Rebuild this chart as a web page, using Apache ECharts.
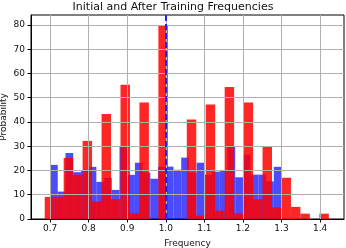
<!DOCTYPE html>
<html>
<head>
<meta charset="utf-8">
<script src="https://cdn.jsdelivr.net/npm/echarts@6/dist/echarts.min.js"></script>
<style>
html,body{margin:0;padding:0;background:#fff;}
#chart{width:346px;height:248px;}
</style>
</head>
<body>
<div id="chart"></div>
<script>
// Histogram "after training" (red): 30 bins
const redStart = 0.6862;
const redWidth = 0.02455;
const redValues = [9.1, 9.2, 25.2, 18.3, 32.2, 7.2, 43.3, 8.2, 55.3, 2.3,
                   48.0, 0, 80.0, 0, 0, 41.0, 1.4, 47.2, 3.4, 54.4,
                   2.3, 48.0, 8.2, 30.0, 4.8, 17.0, 5.0, 2.2, 0, 2.2];
// Histogram "initial" (blue): 30 bins
const blueStart = 0.70;
const blueWidth = 0.02;
const blueValues = [22.3, 11.3, 27.2, 19.3, 20.2, 21.5, 15.3, 17.0, 12.0, 30.0,
                    18.2, 23.2, 19.2, 16.6, 21.6, 21.6, 20.3, 25.3, 19.2, 23.2,
                    18.3, 19.5, 20.2, 30.0, 17.2, 26.5, 18.3, 18.3, 15.5, 21.5];
const xTicks = [0.7, 0.8, 0.9, 1.0, 1.1, 1.2, 1.3, 1.4];
const yTicks = [0, 10, 20, 30, 40, 50, 60, 70, 80];
const referenceX = 1.0;

function binData(start, width, values) {
  return values.map((v, i) => [start + i * width, start + (i + 1) * width, v]);
}

function makeRender(color) {
  return function (params, api) {
    const x0 = api.value(0), x1 = api.value(1), v = api.value(2);
    const pTop = api.coord([x0, v]);
    const pBot = api.coord([x1, 0]);
    return {
      type: 'rect',
      shape: { x: pTop[0], y: pTop[1], width: pBot[0] - pTop[0], height: pBot[1] - pTop[1] },
      style: { fill: color }
    };
  };
}

const font = 'DejaVu Sans';
const chart = echarts.init(document.getElementById('chart'), null, { renderer: 'canvas' });
chart.setOption({
  animation: false,
  backgroundColor: '#fff',
  title: {
    text: 'Initial and After Training Frequencies',
    left: 'center',
    top: 0,
    padding: [2, 0, 0, 29],
    textStyle: { fontFamily: font, fontSize: 11, fontWeight: 'normal', color: '#111' }
  },
  grid: { left: 31, right: 2, top: 15, bottom: 29, show: true, borderColor: '#000', borderWidth: 1, backgroundColor: 'transparent', outerBoundsMode: 'none' },
  xAxis: {
    type: 'value', min: 0.6506, max: 1.462, z: 5,
    name: 'Frequency', nameLocation: 'middle', nameGap: 20, nameMoveOverlap: false,
    nameTextStyle: { fontFamily: font, fontSize: 9, color: '#111' },
    axisLine: { show: true, lineStyle: { color: '#000', width: 1 } },
    axisTick: { show: true, length: 3.5, lineStyle: { color: '#000' }, customValues: xTicks },
    axisLabel: { customValues: xTicks, margin: 5, fontFamily: font, fontSize: 9, color: '#111', formatter: v => v.toFixed(1) },
    splitLine: { show: true, lineStyle: { color: '#b0b0b0', width: 1 } }
  },
  yAxis: {
    type: 'value', min: 0, max: 84.1, z: 5,
    name: 'Probability', nameLocation: 'middle', nameGap: 23, nameRotate: 90, nameMoveOverlap: false,
    nameTextStyle: { fontFamily: font, fontSize: 9, color: '#111' },
    axisLine: { show: true, lineStyle: { color: '#000', width: 1 } },
    axisTick: { show: true, length: 3.5, lineStyle: { color: '#000' }, customValues: yTicks },
    axisLabel: { customValues: yTicks, margin: 6, fontFamily: font, fontSize: 9, color: '#111' },
    splitLine: { show: true, lineStyle: { color: '#b0b0b0', width: 1 } }
  },
  series: [
    {
      type: 'custom', name: 'Initial', z: 2,
      renderItem: makeRender('rgba(0,0,255,0.7)'),
      encode: { x: [0, 1], y: 2 },
      data: binData(blueStart, blueWidth, blueValues)
    },
    {
      type: 'custom', name: 'After Training', z: 3,
      renderItem: makeRender('rgba(255,0,0,0.85)'),
      encode: { x: [0, 1], y: 2 },
      data: binData(redStart, redWidth, redValues),
      markLine: {
        silent: true, symbol: 'none', z: 10,
        label: { show: false },
        lineStyle: { color: '#2020ff', width: 2, type: [6, 3] },
        data: [{ xAxis: referenceX }]
      }
    }
  ]
});
</script>
</body>
</html>
